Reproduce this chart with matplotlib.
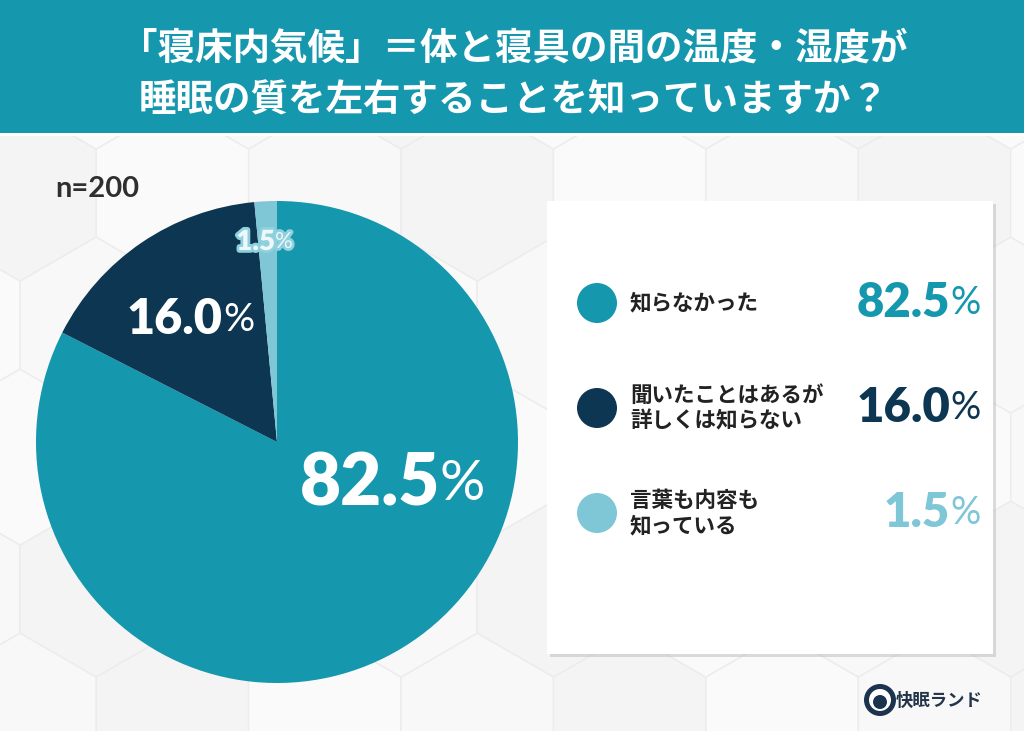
import numpy as np
import matplotlib
matplotlib.use('Agg')
import matplotlib.pyplot as plt
from matplotlib.patches import Rectangle, RegularPolygon, Circle
import matplotlib.patheffects as pe

plt.rcParams['font.family'] = ['Noto Sans CJK JP', 'DejaVu Sans']

# データ
labels = ['知らなかった', '聞いたことはあるが\n詳しくは知らない', '言葉も内容も\n知っている']
values = [82.5, 16.0, 1.5]
colors = ['#1597ae', '#0c3652', '#7fc6d6']
n_total = 200
title = '「寝床内気候」＝体と寝具の間の温度・湿度が\n睡眠の質を左右することを知っていますか？'

W, H = 1024, 731
fig = plt.figure(figsize=(W / 100, H / 100), dpi=100)
ax = fig.add_axes([0, 0, 1, 1])

def Y(y):  # 画像の上からの座標 -> 下からの座標
    return H - y

# 背景 (六角形タイル)
ax.add_patch(Rectangle((0, 0), W, H, facecolor='#f6f6f6', edgecolor='none', zorder=0))
R = 88
dx = np.sqrt(3) * R
for row in range(-1, 8):
    for col in range(-1, 9):
        hx = col * dx + (dx / 2 if row % 2 else 0) + 20
        hy = row * 1.5 * R + 10
        shade = ['#f8f8f8', '#f4f4f4', '#fafafa'][(row + col) % 3]
        ax.add_patch(RegularPolygon((hx, hy), 6, radius=R, orientation=0,
                                    facecolor=shade, edgecolor='#ececec', lw=1.0, zorder=0.5))

# タイトル帯
ax.add_patch(Rectangle((0, Y(133)), W, 133, facecolor='#1597ae', edgecolor='none', zorder=2))
ax.add_patch(Rectangle((0, Y(136)), W, 3, facecolor='white', edgecolor='none', zorder=2))
ax.text(W / 2 + 2, Y(74), title, ha='center', va='center', color='white', fontsize=27,
        fontweight='bold', linespacing=1.4, zorder=3)

ax.text(55, Y(189), f'n={n_total}', ha='left', va='center',
        fontsize=21, fontweight='bold', color='#2f2f2f', family=['Lato', 'DejaVu Sans'], zorder=3)

# 円グラフ
cx, cy, r = 277, Y(442), 241
ax.pie(values, colors=colors, startangle=90, counterclock=False, center=(cx, cy), radius=r,
       wedgeprops=dict(edgecolor='none', zorder=3), frame=True)

num_font = ['Lato', 'DejaVu Sans']
def pct_text(x, y, val, size, color, effects=None):
    t1 = ax.text(x, y, f'{val:.1f}', ha='right', va='center', fontsize=size, fontweight='heavy',
                 color=color, family=num_font, zorder=5)
    t2 = ax.text(x, y, '%', ha='left', va='center', fontsize=size * 0.8, fontweight='normal',
                 color=color, family=num_font, zorder=5)
    if effects:
        t1.set_path_effects(effects)
        t2.set_path_effects(effects)

pct_text(cx + 163, cy - 42, values[0], 51, 'white')
pct_text(cx - 54, cy + 122, values[1], 35, 'white')
pct_text(cx - 2, cy + 200, values[2], 20, '#eef8fa',
         [pe.withStroke(linewidth=4, foreground='#8fd0de')])

# 凡例ボックス
box = Rectangle((547, Y(654)), 446, 453, facecolor='white', edgecolor='none', zorder=3)
box.set_path_effects([pe.SimplePatchShadow(offset=(2, -2), shadow_rgbFace='#bbbbbb', alpha=0.5),
                      pe.Normal()])
ax.add_patch(box)

rows_y = [303, 408, 513]
for lab, val, col, yy in zip(labels, values, colors, rows_y):
    ax.add_patch(Circle((597, Y(yy)), 20, facecolor=col, edgecolor='none', zorder=4))
    ax.text(630, Y(yy), lab, ha='left', va='center', fontsize=15.5, fontweight='bold',
            color='#222222', linespacing=1.25, zorder=4)
    pct_text(950, Y(yy), val, 34, col)

# ロゴ
ax.add_patch(Circle((880, Y(700)), 16, facecolor='#1c3350', edgecolor='none', zorder=4))
ax.add_patch(Circle((880, Y(700)), 11, facecolor='white', edgecolor='none', zorder=4))
ax.add_patch(Circle((880, Y(702)), 7, facecolor='#1c3350', edgecolor='none', zorder=4))
ax.text(896, Y(701), '快眠ランド', ha='left', va='center', fontsize=12.5,
        color='#24344a', fontweight='bold', zorder=4)

ax.set_xlim(0, W)
ax.set_ylim(0, H)
ax.set_aspect('auto')
ax.axis('off')
fig.savefig('out.png', dpi=100)
